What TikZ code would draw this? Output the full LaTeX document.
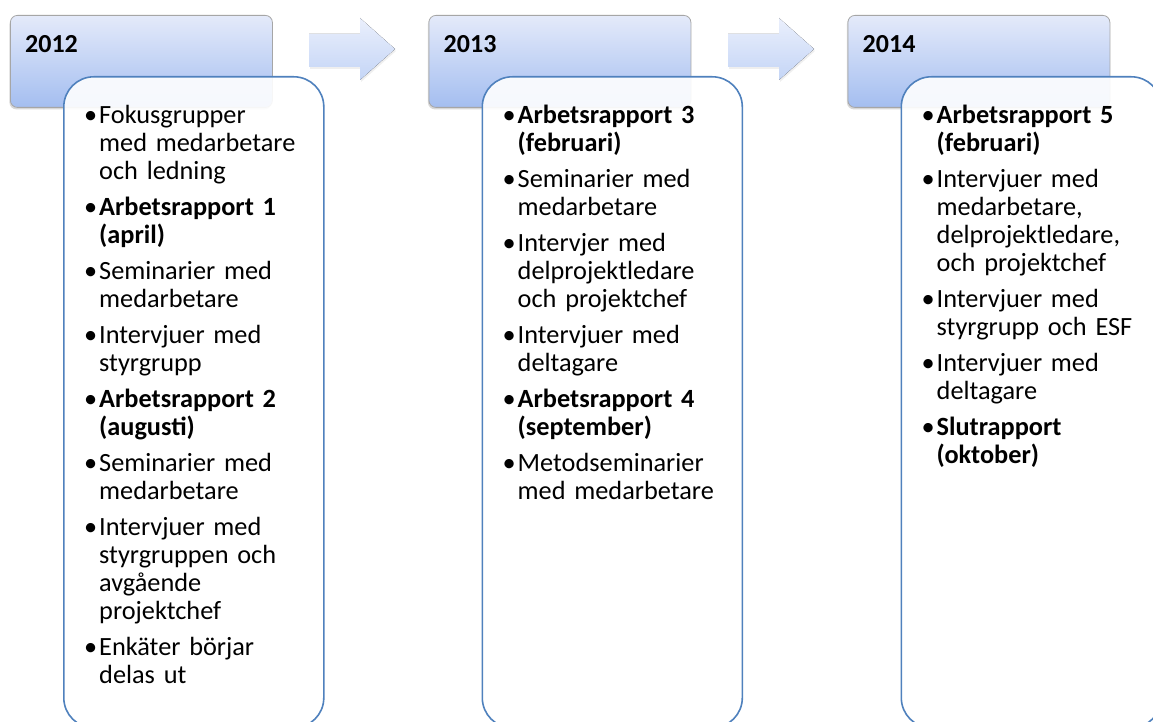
\documentclass[tikz,border=0pt]{standalone}
\usepackage{fontspec}
\setmainfont{Carlito}
\usetikzlibrary{shadows, positioning}

\definecolor{headtop}{RGB}{228,234,250}
\definecolor{headbot}{RGB}{164,190,240}
\definecolor{arrtop}{RGB}{234,239,252}
\definecolor{arrbot}{RGB}{196,213,246}
\definecolor{boxline}{RGB}{79,129,189}

% one bullet item with hanging indent
\newlength\bulw
\setlength\bulw{15pt}
\newcommand\bul[1]{\hangindent=\bulw\hangafter=1\noindent\makebox[\bulw][l]{\textbullet}\strut#1\par}

\tikzset{
  yearbox/.style={rectangle, rounded corners=7pt, draw=gray!70, line width=0.8pt,
    top color=headtop, bottom color=headbot, minimum width=262pt, minimum height=92pt,
    anchor=north west, drop shadow={shadow xshift=-1pt, shadow yshift=-2pt, opacity=0.3}},
  yeartext/.style={anchor=base west, inner sep=0pt, font=\fontsize{26}{26}\selectfont\bfseries},
  listbox/.style={rectangle, rounded corners=30pt, draw=boxline, line width=1.6pt,
    fill=white, fill opacity=0.9, minimum width=260pt, minimum height=651pt, anchor=north west},
  listtext/.style={anchor=north west, inner sep=0pt, text width=228pt,
    font=\fontsize{26.3}{28}\selectfont,
    execute at begin node={\setlength\parskip{8pt}\setlength\parindent{0pt}%
      \lineskiplimit=-100pt\lineskip=0pt}},
  stepArrow/.style={top color=arrtop, bottom color=arrbot, draw=none,
    drop shadow={shadow xshift=1pt, shadow yshift=-2pt, opacity=0.12}}
}

\begin{document}
\begin{tikzpicture}[x=1pt, y=-1pt]
\clip (0,0) rectangle (1153,722);
\fill[white] (0,0) rectangle (1153,722);

% arrows between the years
\foreach \x in {0, 419} {
  \fill[stepArrow] (309+\x,34) -- (360+\x,34) -- (360+\x,18) -- (395+\x,49)
    -- (360+\x,80) -- (360+\x,67) -- (309+\x,67) -- cycle;
}

% 2012
\begin{scope}[shift={(0,0)}]
\node[yearbox] (y2012) at (10,15) {};
\node[yeartext] (t2012) at ([xshift=15pt, yshift=-38pt]y2012.north west) {2012};
\node[listbox] (box2012) at ([xshift=53pt, yshift=-61pt]y2012.north west) {};
\node[listtext] (list2012) at ([xshift=21pt, yshift=-28pt]box2012.north west) {%
  \bul{Fokusgrupper\newline med medarbetare\newline och ledning}
  \bul{\textbf{Arbetsrapport 1\newline (april)}}
  \bul{Seminarier med\newline medarbetare}
  \bul{Intervjuer med\newline styrgrupp}
  \bul{\textbf{Arbetsrapport 2\newline (augusti)}}
  \bul{Seminarier med\newline medarbetare}
  \bul{Intervjuer med\newline styrgruppen och\newline avgående\newline projektchef}
  \bul{Enkäter börjar\newline delas ut}};
\end{scope}

% 2013
\begin{scope}[shift={(418.5,0)}]
\node[yearbox] (y2013) at (10,15) {};
\node[yeartext] (t2013) at ([xshift=15pt, yshift=-38pt]y2013.north west) {2013};
\node[listbox] (box2013) at ([xshift=53pt, yshift=-61pt]y2013.north west) {};
\node[listtext] (list2013) at ([xshift=21pt, yshift=-28pt]box2013.north west) {%
  \bul{\textbf{Arbetsrapport 3\newline (februari)}}
  \bul{Seminarier med\newline medarbetare}
  \bul{Intervjer med\newline delprojektledare\newline och projektchef}
  \bul{Intervjuer med\newline deltagare}
  \bul{\textbf{Arbetsrapport 4\newline (september)}}
  \bul{Metodseminarier\newline med medarbetare}};
\end{scope}

% 2014
\begin{scope}[shift={(837.5,0)}]
\node[yearbox] (y2014) at (10,15) {};
\node[yeartext] (t2014) at ([xshift=15pt, yshift=-38pt]y2014.north west) {2014};
\node[listbox] (box2014) at ([xshift=53pt, yshift=-61pt]y2014.north west) {};
\node[listtext] (list2014) at ([xshift=21pt, yshift=-28pt]box2014.north west) {%
  \bul{\textbf{Arbetsrapport 5\newline (februari)}}
  \bul{Intervjuer med\newline medarbetare,\newline delprojektledare,\newline och projektchef}
  \bul{Intervjuer med\newline styrgrupp och ESF}
  \bul{Intervjuer med\newline deltagare}
  \bul{\textbf{Slutrapport\newline (oktober)}}};
\end{scope}
\end{tikzpicture}
\end{document}
